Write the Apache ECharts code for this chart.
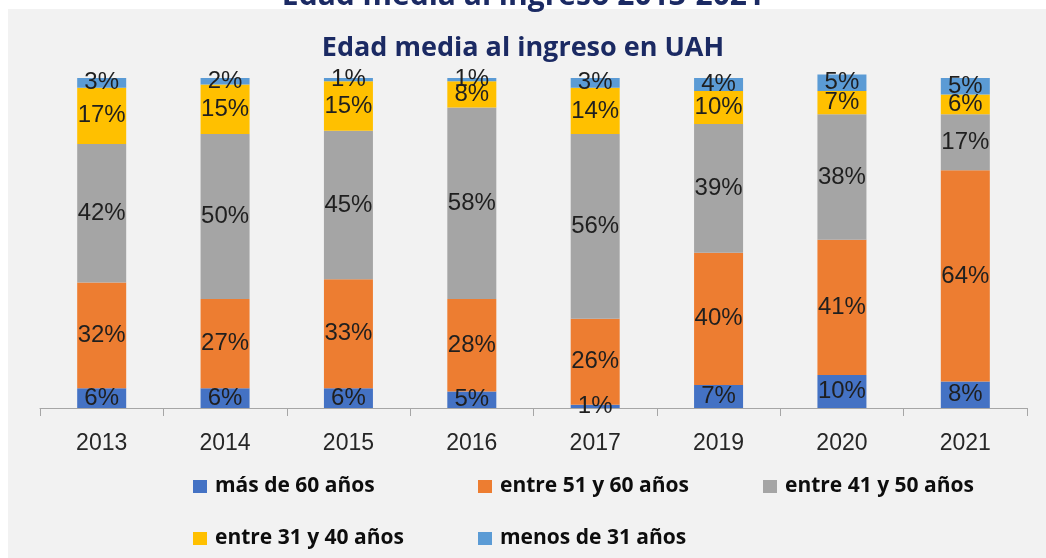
<!DOCTYPE html>
<html>
<head>
<meta charset="utf-8">
<script src="https://cdn.jsdelivr.net/npm/echarts@6/dist/echarts.min.js"></script>
<style>
  html, body { margin: 0; padding: 0; background: #ffffff; }
  #chart { width: 1046px; height: 558px; }
</style>
</head>
<body>
<div id="chart"></div>
<script>
// Age at admission, share of each age band per year (%)
const years = ['2013', '2014', '2015', '2016', '2017', '2019', '2020', '2021'];
const mas60 = [6, 6, 6, 5, 1, 7, 10, 8];
const entre51y60 = [32, 27, 33, 28, 26, 40, 41, 64];
const entre41y50 = [42, 50, 45, 58, 56, 39, 38, 17];
const entre31y40 = [17, 15, 15, 8, 14, 10, 7, 6];
const menos31 = [3, 2, 1, 1, 3, 4, 5, 5];

const seriesNames = ['más de 60 años', 'entre 51 y 60 años', 'entre 41 y 50 años', 'entre 31 y 40 años', 'menos de 31 años'];
const seriesValues = [mas60, entre51y60, entre41y50, entre31y40, menos31];
const colors = ['#4472C4', '#ED7D31', '#A5A5A5', '#FFC000', '#5B9BD5'];

const labelFont = 'Liberation Sans, Arial, sans-serif';
const boldFont = 'Open Sans, Lato, sans-serif';

const chart = echarts.init(document.getElementById('chart'));

const series = seriesNames.map((name, i) => ({
  name: name,
  type: 'bar',
  stack: 'total',
  barWidth: 49,
  itemStyle: { color: colors[i] },
  label: {
    show: true,
    position: 'inside',
    formatter: p => p.value + '%',
    color: '#1f1f1f',
    fontFamily: labelFont,
    fontSize: 24
  },
  data: seriesValues[i]
}));

// one legend block per entry, laid out in two rows
const legendSpots = [
  { left: 193, top: 476 },
  { left: 478, top: 476 },
  { left: 763, top: 476 },
  { left: 193, top: 528 },
  { left: 478, top: 528 }
];
const legends = seriesNames.map((name, i) => ({
  data: [name],
  left: legendSpots[i].left,
  top: legendSpots[i].top,
  icon: 'rect',
  itemWidth: 14,
  itemHeight: 13,
  itemGap: 0,
  padding: 0,
  textStyle: {
    fontFamily: boldFont,
    fontWeight: 'bold',
    fontSize: 21,
    color: '#0d0d0d',
    padding: [0, 0, 0, 3]
  }
}));

chart.setOption({
  backgroundColor: '#ffffff',
  animation: false,
  graphic: [
    {
      type: 'rect',
      z: -10,
      shape: { x: 8, y: 9, width: 1046, height: 560 },
      style: { fill: '#f2f2f2' }
    },
    {
      type: 'text',
      z: 10,
      left: 'center',
      top: -19,
      style: {
        text: 'Edad media al ingreso 2013-2021',
        fill: '#1b2a63',
        font: 'bold 30px ' + boldFont
      }
    }
  ],
  title: {
    text: 'Edad media al ingreso en UAH',
    left: 'center',
    top: 30,
    textStyle: {
      fontFamily: boldFont,
      fontWeight: 'bold',
      fontSize: 27,
      color: '#1b2a63'
    }
  },
  legend: legends,
  grid: { left: 40, right: 19, top: 68, bottom: 150, containLabel: false },
  xAxis: {
    type: 'category',
    data: years,
    axisLine: { lineStyle: { color: '#a6a6a6', width: 1 } },
    axisTick: { show: true, length: 8, lineStyle: { color: '#a6a6a6' } },
    axisLabel: {
      color: '#262626',
      fontFamily: labelFont,
      fontSize: 23,
      margin: 24
    }
  },
  yAxis: {
    type: 'value',
    min: 0,
    max: 103,
    show: false,
    splitLine: { show: false }
  },
  series: series
});
</script>
</body>
</html>
